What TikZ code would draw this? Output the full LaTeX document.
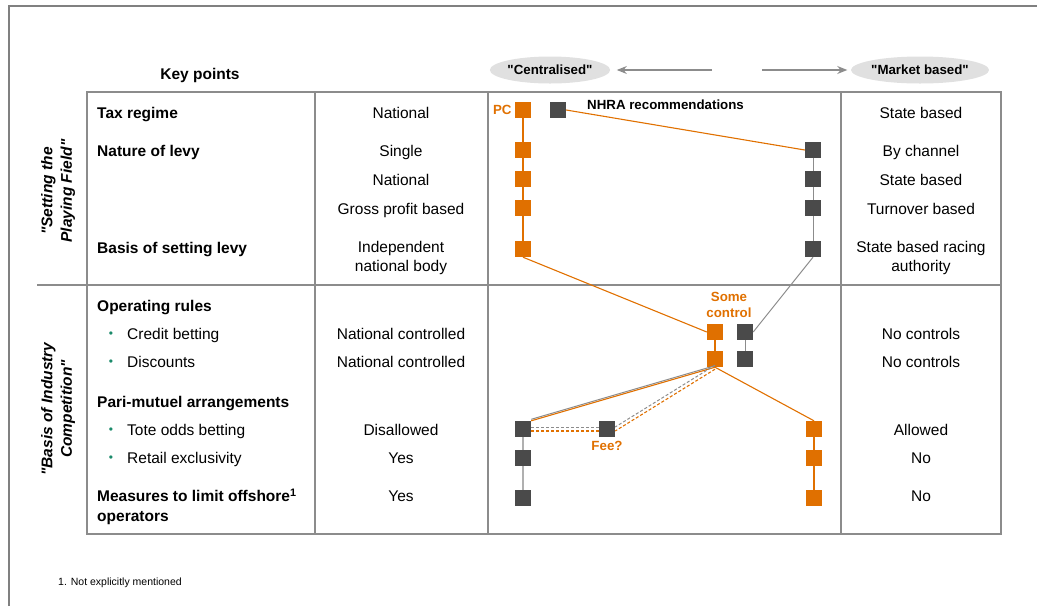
\documentclass[tikz,border=0pt]{standalone}
\usepackage{fontspec}
\setmainfont{Liberation Sans}[Ligatures=TeXOff]
\usetikzlibrary{arrows.meta,shapes.geometric,positioning}
\definecolor{pcorange}{HTML}{E07000}
\definecolor{pcdark}{HTML}{4A4A4A}
\definecolor{pcline}{HTML}{8C8C8C}
\definecolor{pclight}{HTML}{B0B0B0}
\definecolor{pcfill}{HTML}{E0E0E0}
\definecolor{pcbullet}{HTML}{1A8A6A}
\newcommand{\bigtxt}{\fontsize{15.5}{19.5}\selectfont}
\newcommand{\smalltxt}{\fontsize{13.3}{16}\selectfont}

\tikzset{
  box/.style={rectangle,minimum size=16pt,inner sep=0pt},
  obox/.style={box,fill=pcorange},
  gbox/.style={box,fill=pcdark},
  oneline/.style={text height=11.5pt,text depth=3.5pt},
  rowhead/.style={anchor=west,inner sep=0pt,align=left,font=\bfseries\bigtxt},
  rowtext/.style={anchor=west,inner sep=0pt,font=\bigtxt,oneline},
  cell/.style={inner sep=0pt,align=center,font=\bigtxt},
  tag/.style={inner sep=0pt,align=center,text=pcorange,font=\bfseries\smalltxt},
  pole/.style={ellipse,fill=pcfill,minimum width=117pt,minimum height=27pt,inner sep=0pt,font=\bfseries\smalltxt},
  grid/.style={pcline,line width=1.3pt},
  oline/.style={pcorange,line width=1.1pt},
  gline/.style={pcline,line width=1pt},
  arr/.style={pcline,line width=1.2pt,-{Stealth[length=10pt,width=8pt]}},
}

\begin{document}
\begin{tikzpicture}[x=1pt,y=-1pt]
 \useasboundingbox (0,0) rectangle (1037,606);
 \draw[gray,line width=2.5pt] (9,606) -- (9,6) -- (1037,6);

 % table
 \draw[grid] (87,92) rectangle (1001,534);
 \draw[grid] (37,285) -- (1001,285);
 \foreach \x in {315,488,841}
   \draw[grid] (\x,92) -- (\x,534);

 \node[font=\bfseries\bigtxt,oneline,inner sep=0pt] (keypts) at (200,75.5) {Key points};
 \node[pole] (cent) at (550,70) {"Centralised"};
 \node[pole] (mkt) at (920,70) {"Market based"};
 \coordinate (lmid) at (712,70);
 \coordinate (rmid) at (762,70);
 \draw[arr,shorten >=6.5pt] (lmid) -- (cent);
 \draw[arr,shorten >=3.5pt] (rmid) -- (mkt);

 \node[rotate=90,align=center,font=\bfseries\itshape\bigtxt] (field) at (58,191) {"Setting the\\Playing Field"};
 \node[rotate=90,align=center,font=\bfseries\itshape\bigtxt] (compet) at (58,409) {"Basis of Industry\\Competition"};

 % key points column
 \foreach \y/\t [count=\i] in {113/Tax regime, 151/Nature of levy, 248/Basis of setting levy,
                               306/Operating rules, 402/Pari-mutuel arrangements}
   \node[rowhead,oneline] (head\i) at (97,\y+1.5) {\t};
 \node[rowhead] (head6) at (97,507) {Measures to limit offshore\textsuperscript{1}\\operators};
 \foreach \y/\t [count=\i] in {334/Credit betting, 362/Discounts, 430/Tote odds betting, 458/Retail exclusivity}
 {
   \node[text=pcbullet,inner sep=0pt,font=\fontsize{12}{14}\selectfont] (dot\i) at (111,\y+1) {•};
   \node[rowtext] (item\i) at (127,\y+1.5) {\t};
 }

 % centralised / market based columns
 \foreach \y/\t [count=\i] in {113/National, 151/Single, 180/National, 209/Gross profit based,
                               334/National controlled, 362/National controlled,
                               430/Disallowed, 458/Yes, 496/Yes}
   \node[cell,oneline] (natl\i) at (401,\y+1.5) {\t};
 \node[cell] (natl10) at (401,258) {Independent\\national body};
 \foreach \y/\t [count=\i] in {113/State based, 151/By channel, 180/State based, 209/Turnover based,
                               334/No controls, 362/No controls, 430/Allowed, 458/No, 496/No}
   \node[cell,oneline] (mkt\i) at (921,\y+1.5) {\t};
 \node[cell] (mkt10) at (921,258) {State based racing\\authority};

 % positions
 \foreach \y [count=\i] in {110,150,179,208,249}
   \node[obox] (l\i) at (523,\y) {};
 \foreach \y [count=\i] in {150,179,208,249}
   \node[gbox] (r\i) at (813,\y) {};
 \node[gbox] (nhra) at (558,110) {};
 \node[obox] (m1) at (715,332) {};
 \node[obox] (m2) at (715,359) {};
 \node[gbox] (g1) at (745,332) {};
 \node[gbox] (g2) at (745,359) {};
 \foreach \y [count=\i] in {429,458,498}
 {
   \node[gbox] (t\i) at (523,\y) {};
   \node[obox] (u\i) at (814,\y) {};
 }
 \node[gbox] (fee) at (607,429) {};

 \node[tag,left=3pt of l1] (pc) {PC};
 \node[anchor=west,inner sep=0pt,font=\bfseries\smalltxt] (nhratxt) at (587,105) {NHRA recommendations};
 \node[tag] (some) at (729,305) {Some\\control};
 \node[tag,below=4pt of fee] (feetxt) {Fee?};

 % links
 \foreach \a/\b in {l1/l2,l2/l3,l3/l4,l4/l5,m1/m2,u1/u2,u2/u3}
   \draw[oline] (\a) -- (\b);
 \foreach \a/\b in {r1/r2,r2/r3,r3/r4,g1/g2}
   \draw[gline] (\a) -- (\b);
 \draw[pclight,line width=1.2pt] (t1) -- (t2) -- (t3);
 \draw[oline] (nhra.east) -- (r1.west);
 \draw[oline] (l5.south) -- (m1.west);
 \draw[gline] (r4.south) -- (g1.east);
 \draw[oline] (m2.south) -- (u1.north);
 \draw[gline,transform canvas={yshift=1.5pt}] (m2.south) -- (t1.north east);
 \draw[oline] (m2.south) -- (t1.north east);
 \draw[gline,dash pattern=on 3pt off 2pt,transform canvas={yshift=2pt}] (m2.south) -- (fee.east);
 \draw[oline,dash pattern=on 3pt off 2pt,transform canvas={yshift=-2pt}] (m2.south) -- (fee.east);
 \draw[gline,dash pattern=on 3pt off 2pt,transform canvas={yshift=2pt}] (t1.east) -- (fee.west);
 \draw[oline,dash pattern=on 3pt off 2pt,transform canvas={yshift=-2pt}] (t1.east) -- (fee.west);

 \node[anchor=west,inner sep=0pt,font=\fontsize{10.5}{12}\selectfont] (note) at (58,583) {1. Not explicitly mentioned};
\end{tikzpicture}
\end{document}
